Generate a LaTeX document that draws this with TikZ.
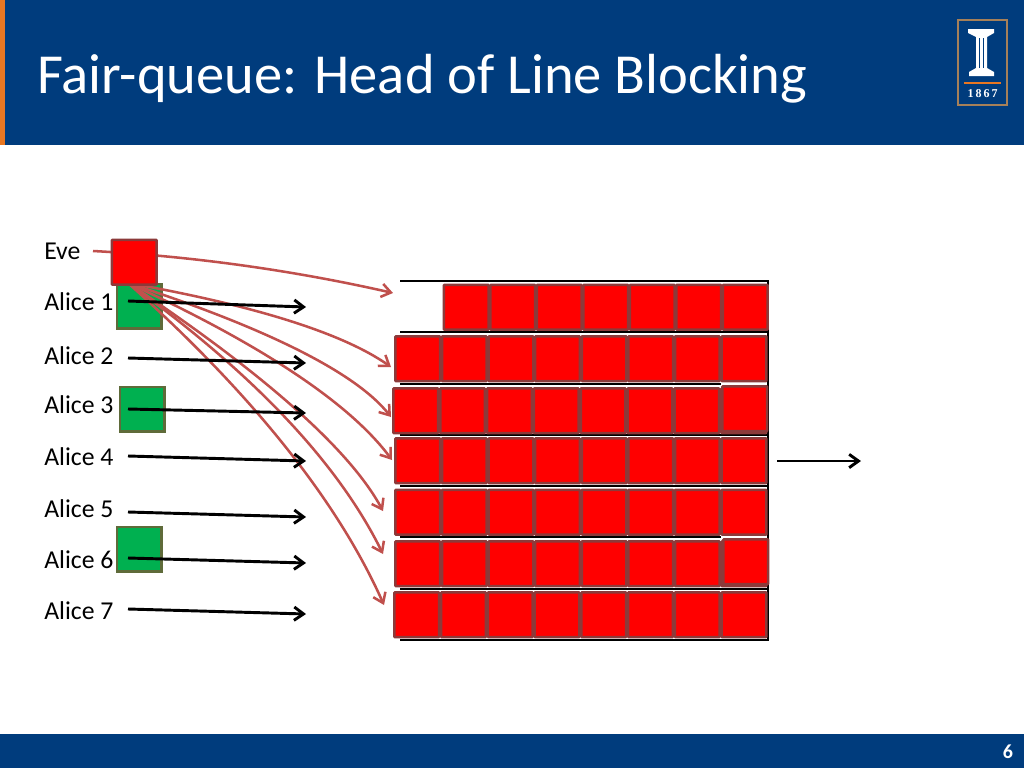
\documentclass[tikz,border=0pt]{standalone}
\usepackage{fontspec}
\setmainfont{Carlito}
\usetikzlibrary{arrows.meta,calc}
\definecolor{banner}{HTML}{003C7D}
\definecolor{accent}{HTML}{E87722}
\definecolor{queued}{HTML}{FF0000}
\definecolor{queuedline}{HTML}{8C3A3A}
\definecolor{aliceflow}{HTML}{00B050}
\definecolor{aliceline}{HTML}{5F6B3A}
\definecolor{eveflow}{HTML}{C0504D}
\tikzset{
  cell/.style={draw=queuedline,fill=queued,line width=2pt,minimum width=33.6pt,
    minimum height=33.6pt,inner sep=0pt,anchor=north west,rounded corners=0.6pt},
  alicebox/.style={draw=aliceline,fill=aliceflow,line width=2pt,minimum size=33.6pt,
    inner sep=0pt,anchor=north west},
  sender/.style={anchor=west,inner sep=0pt,font=\fontsize{19.3}{22}\selectfont},
  flow/.style={line width=2.2pt,-{Straight Barb[length=7pt,width=10pt,line width=2.2pt]}},
  attack/.style={eveflow,line width=1.9pt,-{Straight Barb[length=7pt,width=10pt,line width=1.9pt]}},
  wall/.style={line width=2pt,black}
}
\begin{document}
\begin{tikzpicture}[x=0.75pt,y=-0.75pt]
  \useasboundingbox (0,0) rectangle (1024,768);
  % banner and footer
  \fill[banner] (0,0) rectangle (1024,145);
  \fill[accent] (0,0) rectangle (5,145);
  \fill[banner] (0,734) rectangle (1024,768);
  \node[anchor=base west,inner sep=0pt,text=white,font=\fontsize{42.4}{48}\selectfont] (title) at (37,93) {Fair-queue: Head of Line Blocking};
  \node[text=white,inner sep=0pt,font=\fontsize{15}{18}\bfseries\selectfont] (page) at (1008,752) {6};
  % logo
  \draw[draw=gray!70!orange,line width=1pt] (958,20) rectangle (1007,105);
  \fill[white] (968,29) -- (994,29) -- (994,33) -- (987,37) -- (987,68) -- (994,72) -- (994,76)
    -- (969,76) -- (969,72) -- (976,68) -- (976,37) -- (972,35) -- (968,33) -- cycle;
  \draw[banner,line width=0.6pt] (979,38) -- (979,68) (983,38) -- (983,68);
  \draw[accent,line width=1pt] (964,83) -- (1001,83);
  \node[text=white,inner sep=0pt,font=\fontsize{9}{10}\bfseries\fontspec{Liberation Serif}] (year) at (982.5,94) {1\,8\,6\,7};
  % senders
  \foreach \name/\who/\y in {eve/Eve/251,a1/Alice 1/302,a2/Alice 2/356,a3/Alice 3/405,
      a4/Alice 4/457,a5/Alice 5/509,a6/Alice 6/560,a7/Alice 7/611}
    \node[sender] (\name) at (44,\y) {\who};
  \node[alicebox] (g1) at (115.5,282.5) {};
  \node[alicebox] (g3) at (118.5,385.5) {};
  \node[alicebox] (g6) at (115.5,525.5) {};
  % walls of the queues
  \draw[wall] (400,281) -- (768,281) -- (768,640) -- (400,640);
  \foreach \y/\xend in {332/768,384/721,435/768,486/768,537/721,589/768}
    \draw[wall] (400,\y) -- (\xend,\y);
  % queued packets
  \foreach \row/\top/\left/\stp/\first in {1/283.5/396/46.5/2,2/335/394/46.6/1,3/387/392/46.85/1,
      4/437/394/46.6/1,5/488.5/394/46.6/1,6/540/394/46.6/1,7/591/393/46.75/1}
    \foreach \col in {\first,...,8}
      \node[cell] (r\row c\col) at ({\left+(\col-1)*\stp},\top) {};
  \node[cell] (r3top) at (721,385) {};
  \node[cell] (r6top) at (722,538) {};
  % end points of the flows
  \coordinate (eveTail) at (93,251);
  \coordinate (eveSrc) at (128,283);
  \coordinate (t1) at (393,293);
  \coordinate (q1) at (243,259);
  \foreach \name/\x/\y/\qx/\qy in {2/391/367/320/317,3/391/417/340/352,4/392/460/330/376,
      5/383/511/334/420,6/383/554/316/418,7/384/605/315/450} {
    \coordinate (t\name) at (\x,\y);
    \coordinate (q\name) at (\qx,\qy);
  }
  % eve's flows
  \draw[attack] (eveTail) .. controls ($(eveTail)!.667!(q1)$) and ($(t1)!.667!(q1)$) .. (t1);
  \foreach \i in {2,...,7}
    \draw[attack] (eveSrc) .. controls ($(eveSrc)!.667!(q\i)$) and ($(t\i)!.667!(q\i)$) .. (t\i);
  \node[cell] (evebox) at (110.5,238.5) {};
  % alice's flows
  \foreach \i/\ya/\yb in {1/301/307,2/358/363,3/409/413,4/456/461,5/512/517,6/558/563,7/609/614} {
    \coordinate (s\i) at (128,\ya);
    \coordinate (e\i) at (306,\yb);
    \draw[flow] (s\i) -- (e\i);
  }
  % output link
  \coordinate (outA) at (777,461);
  \coordinate (outB) at (861,461);
  \draw[flow] (outA) -- (outB);
\end{tikzpicture}
\end{document}
